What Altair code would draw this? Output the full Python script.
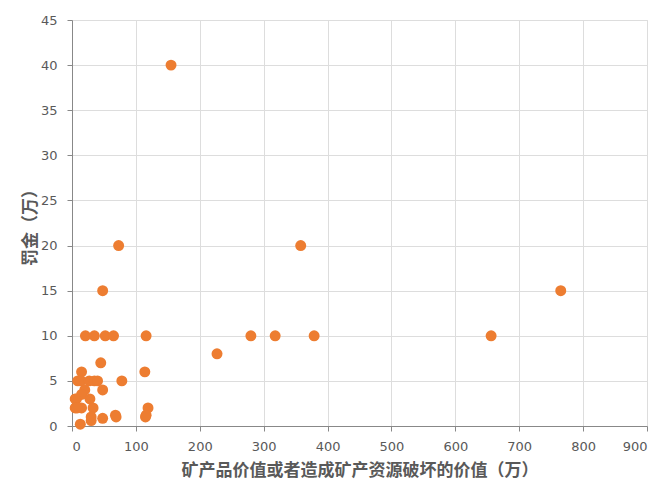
import altair as alt
import pandas as pd

# 矿产品价值 (万) and 罚金 (万)
value = [155, 73, 358, 765, 48, 656, 379, 318, 280, 116,
         21, 35, 52, 65, 227, 45, 114, 15, 78, 9,
         14, 27, 35, 40, 20, 48, 7, 15, 28, 5,
         15, 33, 119, 30, 30, 48, 68, 69, 115, 13,
         5, 8, 116]
fine = [40, 20, 20, 15, 15, 10, 10, 10, 10, 10,
        10, 10, 10, 10, 8, 7, 6, 6, 5, 5,
        5, 5, 5, 5, 4, 4, 3, 3.5, 3, 3,
        2, 2, 2, 1.0, 0.6, 0.85, 1.2, 1.0, 1.0, 0.2,
        2, 2, 1.2]

df = pd.DataFrame({"x": value, "y": fine})

font = "Noto Sans CJK SC"
label_font = "DejaVu Sans"
grey = "#595959"

chart = alt.Chart(df).mark_circle(size=120, opacity=1, color="#ED7D31").encode(
    x=alt.X("x:Q", scale=alt.Scale(domain=[0, 900], nice=False),
            axis=alt.Axis(values=list(range(0, 901, 100)), title="矿产品价值或者造成矿产资源破坏的价值（万）",
                          titleFontSize=17, titleFontWeight="bold", titleColor=grey, titleFont=font,
                          titlePadding=9, labelPadding=9,
                          labelFont=label_font, labelFontSize=13, labelColor=grey)),
    y=alt.Y("y:Q", scale=alt.Scale(domain=[0, 45], nice=False),
            axis=alt.Axis(values=list(range(0, 46, 5)), title="罚金（万）",
                          titleFontSize=17, titleFontWeight="bold", titleColor=grey, titleFont=font,
                          titlePadding=1, labelPadding=10,
                          labelFont=label_font, labelFontSize=13, labelColor=grey)),
).properties(
    width=575, height=406,
    autosize=alt.AutoSizeParams(type="none"),
    padding={"left": 64, "top": 12, "right": 12, "bottom": 60},
).configure_axis(
    gridColor="#d9d9d9", gridWidth=1, domainColor="#d9d9d9", ticks=False,
).configure_view(stroke=None).configure(background="white")

chart.save("out.html", embed_options={"renderer": "svg", "actions": False})
